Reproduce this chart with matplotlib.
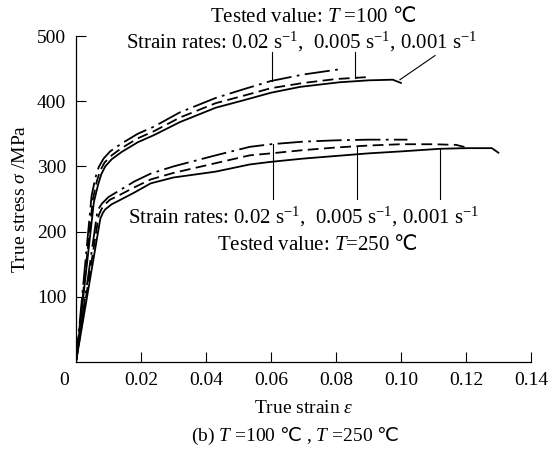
import matplotlib
matplotlib.use("Agg")
import matplotlib.pyplot as plt

plt.rcParams['font.family'] = 'Liberation Serif'
plt.rcParams['mathtext.fontset'] = 'custom'
plt.rcParams['mathtext.rm'] = 'Liberation Serif'
plt.rcParams['mathtext.it'] = 'Liberation Serif:italic'
plt.rcParams['mathtext.sf'] = 'Noto Sans CJK SC'

# T = 100 C curves, strain / stress (MPa)
t100_slow_x = [0, 0.0055, 0.0068, 0.0078, 0.009, 0.011, 0.014, 0.019, 0.024, 0.032, 0.043,
               0.052, 0.06, 0.069, 0.081, 0.09, 0.0975, 0.1]
t100_slow_y = [0, 245, 272, 288, 300, 311, 322, 337, 348, 368, 390, 402, 413, 422, 429, 432, 433, 428]
t100_mid_x = [0, 0.0052, 0.0064, 0.0074, 0.0088, 0.011, 0.014, 0.019, 0.024, 0.032, 0.043,
              0.052, 0.06, 0.07, 0.08, 0.0898]
t100_mid_y = [0, 250, 277, 293, 306, 317, 328, 343, 354, 375, 397, 409, 420, 428, 434, 437]
t100_fast_x = [0, 0.0048, 0.006, 0.007, 0.0085, 0.0105, 0.014, 0.019, 0.024, 0.032, 0.043,
               0.052, 0.06, 0.07, 0.0812]
t100_fast_y = [0, 255, 283, 299, 312, 323, 335, 350, 361, 383, 405, 419, 431, 441, 449]

# T = 250 C curves
t250_slow_x = [0, 0.0075, 0.0083, 0.009, 0.011, 0.013, 0.018, 0.023, 0.03, 0.043, 0.0535,
               0.06, 0.07, 0.08, 0.09, 0.10, 0.112, 0.12, 0.128, 0.13]
t250_slow_y = [0, 220, 229, 234, 242, 247, 260, 274, 283, 292, 303, 307, 312, 316, 320, 323,
               327, 328, 328, 321]
t250_mid_x = [0, 0.007, 0.0078, 0.0085, 0.0105, 0.013, 0.018, 0.023, 0.03, 0.043, 0.0535,
              0.06, 0.07, 0.08, 0.09, 0.10, 0.11, 0.117, 0.121]
t250_mid_y = [0, 225, 234, 240, 249, 255, 268, 280, 290, 305, 317, 320, 325, 329, 332, 334,
              334, 333, 328]
t250_fast_x = [0, 0.0065, 0.0072, 0.008, 0.01, 0.013, 0.018, 0.023, 0.03, 0.043, 0.0535,
               0.06, 0.07, 0.08, 0.09, 0.102]
t250_fast_y = [0, 228, 237, 243, 253, 262, 277, 289, 300, 317, 330, 334, 338, 340, 341, 341]

x_ticks = [0.02, 0.04, 0.06, 0.08, 0.10, 0.12, 0.14]
x_tick_labels = ['0.02', '0.04', '0.06', '0.08', '0.10', '0.12', '0.14']
y_ticks = [100, 200, 300, 400, 500]

fig = plt.figure(figsize=(5.49, 4.57), dpi=100)
ax = fig.add_axes([0.1384, 0.2079, 0.8286, 0.7133])

lw = 1.3
dash = (0, (6, 3))
dashdot = (0, (14, 3, 1.5, 3))
for (xs, ys, ls) in [(t100_slow_x, t100_slow_y, '-'), (t100_mid_x, t100_mid_y, dash),
                     (t100_fast_x, t100_fast_y, dashdot),
                     (t250_slow_x, t250_slow_y, '-'), (t250_mid_x, t250_mid_y, dash),
                     (t250_fast_x, t250_fast_y, dashdot)]:
    ax.plot(xs, ys, color='black', lw=lw, linestyle=ls)

# leader lines
ll = dict(color='black', lw=0.8)
ax.plot([0.0603, 0.0603], [431, 475], clip_on=False, **ll)
ax.plot([0.0858, 0.0858], [435, 475], clip_on=False, **ll)
ax.plot([0.0997, 0.1105], [433, 470], clip_on=False, **ll)
ax.plot([0.0606, 0.0606], [334, 250], **ll)
ax.plot([0.0865, 0.0865], [331, 250], **ll)
ax.plot([0.112, 0.112], [327, 250], **ll)

fs = 14
afs = 15
deg = '$\\mathsf{\u2103}$'
rates = 'Strain rates: 0.02 s$^{-1}$,  0.005 s$^{-1}$, 0.001 s$^{-1}$'
ax.text(0.0729, 529, 'Tested value: $T$ =100 ' + deg, ha='center', va='center', fontsize=afs)
ax.text(0.0695, 491, rates, ha='center', va='center', fontsize=afs)
ax.text(0.0702, 222, rates, ha='center', va='center', fontsize=afs)
ax.text(0.0742, 179, 'Tested value: $T$=250 ' + deg, ha='center', va='center', fontsize=afs)

ax.set_xlim(0, 0.14)
ax.set_ylim(0, 500)
ax.set_xticks(x_ticks)
ax.set_xticklabels(x_tick_labels)
ax.set_yticks(y_ticks)
ax.tick_params(direction='in', length=7, width=0.8, labelsize=fs, pad=7)
ax.spines['top'].set_visible(False)
ax.spines['right'].set_visible(False)
for s in ['left', 'bottom']:
    ax.spines[s].set_linewidth(0.9)
ax.text(-0.0038, -29, '0', ha='center', va='center', fontsize=fs)

ax.set_xlabel('True strain $\u03b5$', fontsize=fs, labelpad=8)
ax.set_ylabel('True stress $\u03c3$ /MPa', fontsize=fs, labelpad=6)
fig.text(0.537, 0.044, '(b) $T$ =100 ' + deg + ' , $T$ =250 ' + deg, ha='center', va='center',
         fontsize=fs)

fig.savefig('out.png', dpi=100)
